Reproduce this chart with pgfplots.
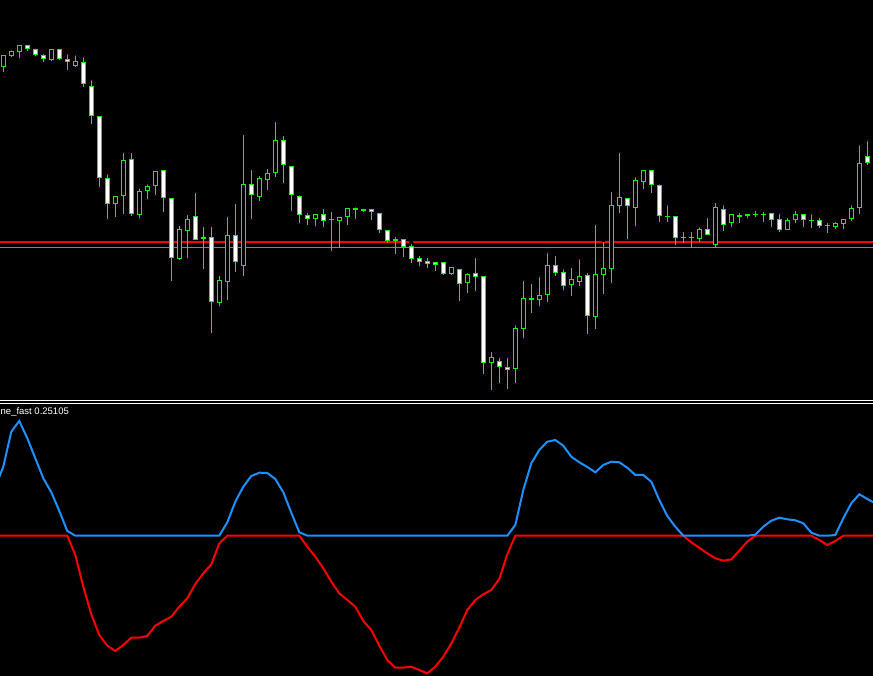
\documentclass[border=0pt]{standalone}
\usepackage{pgfplots}
\pgfplotsset{compat=1.18}
\usepackage{pgfplotstable}
\usepackage{fontspec}
\setmainfont{Liberation Sans}
\definecolor{cgreen}{RGB}{0,255,0}
\definecolor{cblue}{RGB}{30,144,255}
\definecolor{cred}{RGB}{255,0,0}
\definecolor{cgray}{RGB}{119,136,153}

% candle data in pixel rows (hi/lo = wick, top/bot = body), bull=1 for rising candle
\pgfplotstableread{
k hi lo top bot bull
0 54 71.7 55.3 67.3 1
1 48.3 56.7 51.3 55.7 1
2 45.3 57.7 45.3 51.7 1
3 43.3 50.7 45.3 49.3 0
4 47.3 55.7 49.3 55.3 0
5 52 61.7 55.3 59.3 0
6 47.3 60.7 49.3 59.7 1
7 48.3 59.7 49.3 59.3 0
8 52.3 69.7 59.3 62.3 0
9 53.3 66.7 61.3 65.7 1
10 55.3 86.7 62.3 84.3 0
11 78.3 123.7 86.3 116.3 0
12 116.3 186.7 116.3 178.3 0
13 172.3 218.7 178.3 204.3 0
14 194 216.7 196.3 204.3 1
15 151 214.5 160.3 196.3 1
16 151 215.7 159.3 214.5 0
17 186.3 217.7 191.3 215.5 1
18 182.3 198.7 186.3 191.5 1
19 169.3 194.7 171.3 186.3 1
20 169.3 211.7 170.3 198.3 0
21 198.3 280.7 198.3 258.3 0
22 224 259.7 229.3 258.7 1
23 213 257.7 219.3 230.7 1
24 191 239.7 216.3 239.7 0
25 225 268.7 237 238.7 0
26 225 332.7 237.3 302.3 0
27 274 305.7 280.3 302.7 1
28 215 300 235.3 281.7 1
29 202 271.7 235.3 262.3 0
30 133 275.7 184.3 266.3 1
31 168 218.7 184.3 195.3 0
32 174 200.7 178.3 196.7 1
33 167 189.7 173.3 179.7 1
34 120 176.7 140.3 173.3 1
35 134 182.7 140.3 165.3 0
36 164.3 210.7 166.3 195.3 0
37 193.3 222.7 196.3 215.3 0
38 211 224.7 215.3 218.7 0
39 212 225.7 214.3 218.7 1
40 207 226.7 214.3 221.3 0
41 210 250.7 219 220.3 0
42 215 248.3 217.3 221.3 1
43 206 224.7 208.3 217.3 1
44 205.3 218.7 208.3 210.3 0
45 208 211.7 209 210.7 0
46 207 219.7 209.3 212.3 0
47 213.3 232.7 213.3 230.3 0
48 230.3 242.7 230.3 240.7 0
49 235 254 239.3 240.7 0
50 239.3 257.3 239.3 246.7 0
51 242 263 246 258.7 0
52 254 266 258.3 261.7 0
53 256 268 261.3 264.3 0
54 260 271 262.3 264.7 0
55 260 275 262.3 273.7 0
56 267.3 275 267.3 273.7 1
57 269.3 300.7 269.3 283.7 0
58 271 292.7 274.3 282.7 1
59 256 290.7 273.3 276.7 0
60 275 373.7 276.3 362.7 0
61 350 390 357.3 362.7 1
62 356 382.7 361.3 367.3 0
63 356 388.7 367.3 369.7 0
64 323.3 382.7 328.3 368.7 1
65 279 337.7 298.3 329.3 1
66 282 312.7 298 299.7 0
67 275 305.7 295.3 299.7 1
68 251 301.7 265.3 294.7 1
69 254 275.7 265.3 272.7 0
70 267.3 290 272.3 285.7 0
71 266 295.7 279 284.7 1
72 257.3 286 276.3 281.7 1
73 271 333.7 275.3 315.7 0
74 223 328.7 274.3 316.7 1
75 240 294 268.3 274.7 1
76 190 282.7 205.3 268.7 1
77 151 212.7 197.3 206.3 1
78 198.3 238.7 198.3 206.3 0
79 175.3 225.7 180.3 207.7 1
80 169.3 188.7 170.3 181.7 1
81 169.3 192.7 170.3 185.3 0
82 182.3 221.7 185.3 216.3 0
83 203.3 221.7 215.7 217 0
84 215.3 244.7 216.3 238.3 0
85 230 242.7 237 238.5 0
86 230 248.3 237 238.5 0
87 225.3 241.7 229.3 239.3 1
88 216 235.3 229.3 235.3 0
89 201 248 207.3 244.7 1
90 203.3 230.7 208.7 224.7 0
91 213.3 226.7 214.3 223.3 1
92 211 222.7 215.3 216.7 0
93 213.3 217.7 214 215.7 0
94 209 216.7 214 215.3 0
95 210 222 214 215.3 0
96 211 226.7 213.3 220.3 0
97 212 231.7 219.3 230.3 0
98 216 230.3 220.3 230.3 1
99 209 223.3 214.3 220.3 1
100 212.3 226.7 214.3 220.3 0
101 212.3 227.7 219.7 221 0
102 216 227.7 220.3 226.3 0
103 221 232.7 225 226.5 0
104 220 228.7 223.3 226.7 1
105 217.3 228.7 219.3 223.7 1
106 203.3 220.7 208.3 219.3 1
107 143.3 214.3 163.3 208.3 1
108 139 164.7 156.3 163.3 0
}\candles

\pgfplotstableread{
k blue red
-1 49 0
0 69 0
1 104 0
2 114.7 0
3 97.4 0
4 77.4 0
5 57.4 0
6 43.4 0
7 24.7 0
8 4.7 0
9 0 -19.3
10 0 -51
11 0 -78.6
12 0 -99.3
13 0 -110
14 0 -115.3
15 0 -109.3
16 0 -102
17 0 -102
18 0 -100.3
19 0 -90
20 0 -85.3
21 0 -81
22 0 -71
23 0 -62.7
24 0 -48.3
25 0 -37.7
26 0 -28.7
27 0 -7.7
28 13.4 0
29 34 0
30 49 0
31 59.7 0
32 63 0
33 62.7 0
34 56.7 0
35 43.4 0
36 23 0
37 3.4 0
38 0 -11
39 0 -21
40 0 -32.6
41 0 -46
42 0 -57.6
43 0 -64.3
44 0 -71
45 0 -85.3
46 0 -94.3
47 0 -110
48 0 -124.3
49 0 -132
50 0 -132
51 0 -131
52 0 -134.3
53 0 -137.7
54 0 -131
55 0 -121
56 0 -107.7
57 0 -92
58 0 -74.3
59 0 -64.3
60 0 -58.6
61 0 -54.3
62 0 -43.3
63 0 -18.6
64 10.7 0
65 45.7 0
66 72.4 0
67 85.7 0
68 94 0
69 95.7 0
70 90 0
71 79 0
72 73.4 0
73 68.7 0
74 63.4 0
75 70.7 0
76 74 0
77 73.4 0
78 68 0
79 60.7 0
80 60.7 0
81 54 0
82 35.7 0
83 19.7 0
84 9 0
85 0 0
86 0 -6.7
87 0 -12
88 0 -17.7
89 0 -22.6
90 0 -25
91 0 -23.7
92 0 -15
93 0 -6
94 1 0
95 9 0
96 15 0
97 18 0
98 16.4 0
99 15.4 0
100 12.4 0
101 3 0
102 0 -4.3
103 0 -9.3
104 0.7 -5.3
105 17.4 0
106 32.4 0
107 41.4 0
108 36.7 0
109 32.4 0
}\ind

\begin{document}
\begin{tikzpicture}[x=1pt,y=1pt]
\useasboundingbox (0,0) rectangle (873,676);
\fill[black] (0,0) rectangle (873,676);
\pgfplotsset{every axis/.append style={scale only axis, axis lines=none, width=873pt, anchor=south west, clip=true, xmin=-0.4125, xmax=108.7125}}
% upper pane: lines and wicks
\begin{axis}[at={(0,276)}, height=400pt, ymin=0, ymax=400]
\addplot[cred, line width=1.3pt] coordinates {(-1,158) (110,158)};
\addplot[cgray, line width=1pt] coordinates {(-1,152) (110,152)};
\addplot[only marks, mark=none, error bars/.cd, y dir=minus, y explicit, error mark=none,
  error bar style={draw=cgreen, line width=1pt}]
  table[x=k, y expr=400-\thisrow{hi}, y error minus expr=\thisrow{lo}-\thisrow{hi}] {\candles};
\end{axis}
% upper pane: bodies
\begin{axis}[at={(0,276)}, height=400pt, ymin=0, ymax=400, ybar stacked, bar width=4pt]
\addplot[draw=none, fill=none] table[x=k, y expr=400.5-\thisrow{bot}] {\candles};
\addplot[draw=cgreen, fill=white, line width=1pt] table[x=k, y expr={\thisrow{bull}>0.5 ? 0 : max(\thisrow{bot}-\thisrow{top}-1,0)}] {\candles};
\addplot[draw=cgreen, fill=black, line width=1pt] table[x=k, y expr={\thisrow{bull}>0.5 ? max(\thisrow{bot}-\thisrow{top}-1,0) : 0}] {\candles};
\end{axis}
% separator
\draw[white, line width=1pt] (0,275) -- (873,275);
\draw[white, line width=1pt] (0,272.5) -- (873,272.5);
% lower pane
\begin{axis}[at={(0,0)}, height=271.5pt, ymin=-140.3, ymax=131.2]
\addplot[cred, line width=2pt] table[x=k, y=red] {\ind};
\addplot[cblue, line width=2pt] table[x=k, y=blue] {\ind};
\end{axis}
\node[anchor=north west, inner sep=0pt, text=white, font=\fontsize{9.5}{10}\selectfont] at (0.5,268.5) {ne\_fast 0.25105};
\end{tikzpicture}
\end{document}
